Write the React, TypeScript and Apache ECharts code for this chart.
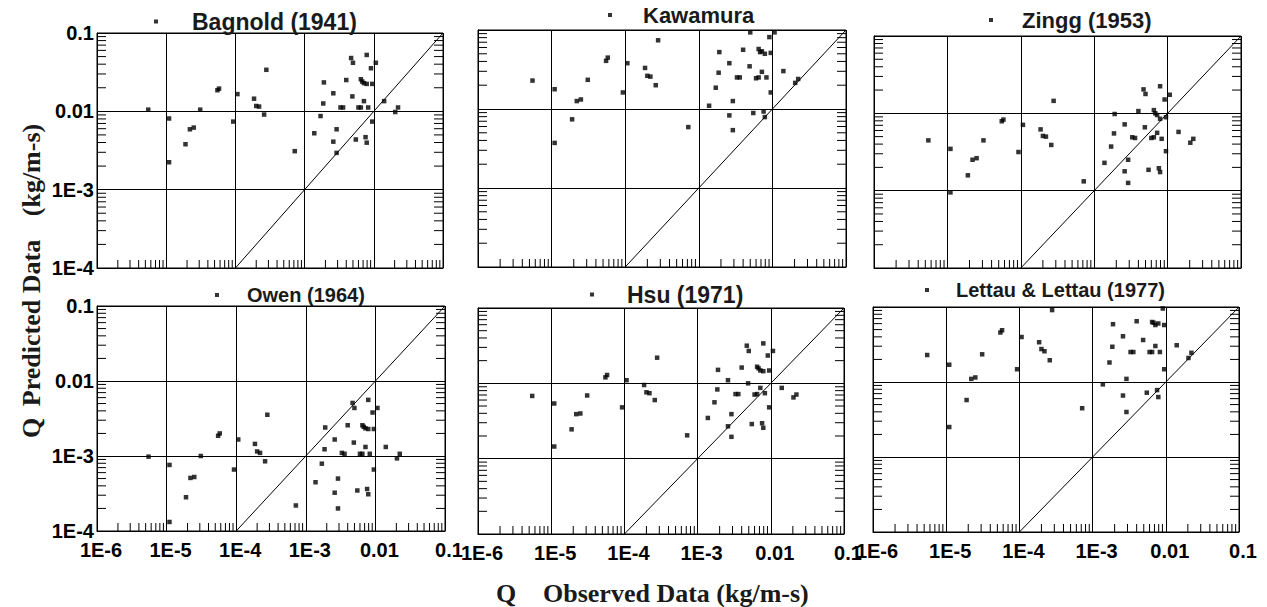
import React, { useEffect, useRef } from "react";
import * as echarts from "echarts";

// ---------------- data ----------------
const observedQ = [
  5.5e-6, 1.1e-5, 1.1e-5, 1.9e-5, 2.2e-5, 2.5e-5, 3.1e-5, 5.5e-5, 5.8e-5, 9.3e-5,
  1.07e-4, 1.86e-4, 2.0e-4, 2.2e-4, 2.6e-4, 2.8e-4, 7.2e-4, 1.38e-3, 1.7e-3, 1.86e-3,
  1.9e-3, 2.6e-3, 2.6e-3, 2.9e-3, 2.9e-3, 3.3e-3, 3.6e-3, 4.0e-3, 4.7e-3, 4.9e-3,
  5.0e-3, 5.5e-3, 6.0e-3, 6.5e-3, 6.5e-3, 6.8e-3, 7.2e-3, 7.2e-3, 7.6e-3, 7.9e-3,
  7.9e-3, 7.9e-3, 8.3e-3, 9.1e-3, 9.5e-3, 9.5e-3, 1.07e-2, 1.41e-2, 2.04e-2, 2.24e-2,
];

const bagnold = [
  1.05e-2, 8.1e-3, 2.24e-3, 3.8e-3, 5.9e-3, 6.2e-3, 1.05e-2, 1.86e-2, 1.95e-2, 7.4e-3,
  1.66e-2, 1.45e-2, 1.17e-2, 1.15e-2, 9.1e-3, 3.39e-2, 3.1e-3, 5.25e-3, 8.7e-3, 1.26e-2,
  2.34e-2, 4.1e-3, 1.7e-2, 2.95e-3, 5.9e-3, 1.12e-2, 1.12e-2, 2.51e-2, 4.79e-2, 1.55e-2,
  4.17e-2, 4.37e-3, 1.12e-2, 1.12e-2, 2.57e-2, 2.4e-2, 1.35e-2, 2.29e-2, 4.68e-3, 3.98e-3,
  5.25e-2, 2.24e-2, 1.12e-2, 3.55e-2, 2.24e-2, 7.4e-3, 4.17e-2, 1.35e-2, 9.8e-3, 1.12e-2,
];

const kawamura = [
  2.29e-2, 1.78e-2, 3.72e-3, 7.4e-3, 1.26e-2, 1.32e-2, 2.34e-2, 4.07e-2, 4.47e-2, 1.62e-2,
  3.8e-2, 3.31e-2, 2.63e-2, 2.57e-2, 2.0e-2, 7.41e-2, 5.9e-3, 1.1e-2, 1.86e-2, 2.88e-2,
  5.25e-2, 8.3e-3, 3.8e-2, 5.4e-3, 1.26e-2, 2.51e-2, 2.51e-2, 5.62e-2, null, 3.47e-2,
  9.33e-2, 8.9e-3, 2.45e-2, 2.51e-2, 5.75e-2, 5.25e-2, 2.95e-2, 5.37e-2, 9.3e-3, 7.9e-3,
  null, 5.0e-2, 2.51e-2, 8.13e-2, 5.13e-2, 1.62e-2, 9.33e-2, 3.02e-2, 2.14e-2, 2.4e-2,
];

const zingg = [
  4.47e-3, 3.47e-3, 9.5e-4, 1.58e-3, 2.51e-3, 2.63e-3, 4.47e-3, 7.9e-3, 8.3e-3, 3.16e-3,
  7.1e-3, 6.2e-3, 5.1e-3, 5.0e-3, 3.9e-3, 1.45e-2, 1.32e-3, 2.29e-3, 3.72e-3, 5.5e-3,
  9.8e-3, 1.78e-3, 7.2e-3, 1.26e-3, 2.51e-3, 4.9e-3, 4.8e-3, 1.07e-2, 2.04e-2, 6.6e-3,
  1.78e-2, 1.86e-3, 4.8e-3, 4.9e-3, 1.1e-2, 1.0e-2, 5.6e-3, 9.5e-3, 1.95e-3, 1.74e-3,
  2.24e-2, 8.5e-3, 4.68e-3, 1.51e-2, 8.9e-3, 3.24e-3, 1.74e-2, 5.75e-3, 4.17e-3, 4.68e-3,
];

const owen = [
  9.8e-4, 7.6e-4, 1.32e-4, 2.82e-4, 5.1e-4, 5.25e-4, 1.0e-3, 1.86e-3, 2.0e-3, 6.6e-4,
  1.66e-3, 1.45e-3, 1.15e-3, 1.1e-3, 8.5e-4, 3.55e-3, 2.19e-4, 4.47e-4, 7.9e-4, 1.23e-3,
  2.4e-3, 3.24e-4, 1.66e-3, 2.0e-4, 5.0e-4, 1.1e-3, 1.07e-3, 2.57e-3, 5.1e-3, 1.51e-3,
  4.37e-3, 3.47e-4, 1.07e-3, 1.07e-3, 2.57e-3, 2.45e-3, 1.32e-3, 2.34e-3, 3.63e-4, 3.09e-4,
  5.6e-3, 2.29e-3, 1.07e-3, 3.8e-3, 2.29e-3, 6.6e-4, 4.37e-3, 1.32e-3, 9.3e-4, 1.07e-3,
];

const hsu = [
  6.8e-3, 5.4e-3, 1.45e-3, 2.45e-3, 3.9e-3, 3.98e-3, 6.9e-3, 1.2e-2, 1.29e-2, 4.8e-3,
  1.1e-2, 9.5e-3, 7.6e-3, 7.4e-3, 6.0e-3, 2.19e-2, 2.04e-3, 3.47e-3, 5.6e-3, 8.3e-3,
  1.51e-2, 2.69e-3, 1.1e-2, 1.95e-3, 3.9e-3, 7.2e-3, 7.2e-3, 1.62e-2, 3.16e-2, 1.0e-2,
  2.69e-2, 2.88e-3, 7.1e-3, 7.2e-3, 1.66e-2, 1.58e-2, 8.7e-3, 1.48e-2, 2.95e-3, 2.57e-3,
  3.39e-2, 1.45e-2, 7.4e-3, 2.34e-2, 1.48e-2, 4.8e-3, 2.69e-2, 8.7e-3, 6.5e-3, 7.1e-3,
];

const lettau = [
  2.29e-2, 1.7e-2, 2.51e-3, 5.75e-3, 1.1e-2, 1.15e-2, 2.34e-2, 4.57e-2, 4.9e-2, 1.48e-2,
  3.98e-2, 3.39e-2, 2.75e-2, 2.57e-2, 1.95e-2, 9.1e-2, 4.47e-3, 9.3e-3, 1.82e-2, 2.95e-2,
  5.9e-2, 6.6e-3, 4.07e-2, 3.98e-3, 1.1e-2, 2.51e-2, 2.51e-2, 6.46e-2, null, 3.63e-2,
  null, 7.2e-3, 2.51e-2, 2.51e-2, 6.31e-2, 6.17e-2, 3.02e-2, 5.75e-2, 7.8e-3, 6.3e-3,
  null, 6.03e-2, 2.51e-2, 9.55e-2, 5.75e-2, 1.48e-2, null, 3.09e-2, 2.09e-2, 2.45e-2,
];

const panelNames = [
  "Bagnold (1941)",
  "Kawamura",
  "Zingg (1953)",
  "Owen (1964)",
  "Hsu (1971)",
  "Lettau & Lettau (1977)",
];
const predictedSets = [bagnold, kawamura, zingg, owen, hsu, lettau];

const xRange = [1e-6, 0.1];
const yRange = [1e-4, 0.1];
const diagonalEnds = [1e-4, 0.1];
const xTickLabels = ["1E-6", "1E-5", "1E-4", "1E-3", "0.01", "0.1"];
const yTickLabels = ["1E-4", "1E-3", "0.01", "0.1"];
const minorMantissas = [2, 3, 4, 5, 6, 7, 8, 9];
const xDecades = [-6, -5, -4, -3, -2];
const yDecades = [-4, -3, -2];

// ---------------- layout ----------------
const grids = [
  { left: 97, top: 33, width: 346, height: 235 },
  { left: 478, top: 30, width: 368, height: 237 },
  { left: 874, top: 36, width: 367, height: 232 },
  { left: 97, top: 306, width: 348, height: 225 },
  { left: 478, top: 308, width: 366, height: 226 },
  { left: 873, top: 307, width: 366, height: 225 },
];
// legend marker centre, text offset, font size
const legendLayout = [
  { x: 156, y: 22, gap: 29, size: 23 },
  { x: 610, y: 15, gap: 26, size: 22 },
  { x: 991, y: 20, gap: 24, size: 22 },
  { x: 217, y: 295, gap: 23, size: 20 },
  { x: 592, y: 295, gap: 28, size: 23 },
  { x: 927, y: 290, gap: 22, size: 20 },
];

const SANS = "'Liberation Sans', Arial, sans-serif";
const SERIF = "'Liberation Serif', 'Times New Roman', serif";
const INK = "#000";

function labelFor(list: string[], first: number) {
  return (v: number) => {
    const e = Math.round(Math.log10(v));
    return list[e - first] ?? "";
  };
}

function minorValues(decades: number[]) {
  const out: number[] = [];
  decades.forEach((d) => minorMantissas.forEach((m) => out.push(m * Math.pow(10, d))));
  return out;
}

function tickSeries(idx: number, kind: "x" | "yl" | "yr") {
  let data: number[][];
  let dx = 0;
  let dy = 0;
  if (kind === "x") {
    data = minorValues(xDecades).map((v) => [v, yRange[0]]);
    dy = -8;
  } else if (kind === "yl") {
    data = minorValues(yDecades).map((v) => [xRange[0], v]);
    dx = 9;
  } else {
    data = minorValues(yDecades).map((v) => [xRange[1], v]);
    dx = -9;
  }
  return {
    type: "custom",
    name: `ticks-${kind}-${idx}`,
    xAxisIndex: idx,
    yAxisIndex: idx,
    silent: true,
    clip: false,
    data,
    renderItem: (_p: any, api: any) => {
      const pt = api.coord([api.value(0), api.value(1)]);
      return {
        type: "line",
        shape: { x1: pt[0], y1: pt[1], x2: pt[0] + dx, y2: pt[1] + dy },
        style: { stroke: INK, lineWidth: 1 },
      };
    },
  };
}

function buildOption() {
  const grid = grids.map((g) => ({
    ...g,
    show: true,
    borderColor: INK,
    borderWidth: 1,
    backgroundColor: "transparent",
    containLabel: false,
  }));

  const xAxis = grids.map((_, i) => ({
    type: "log",
    logBase: 10,
    gridIndex: i,
    min: xRange[0],
    max: xRange[1],
    axisLine: { show: true, lineStyle: { color: INK, width: 1 } },
    axisTick: { show: false },
    splitLine: { show: true, lineStyle: { color: INK, width: 1 } },
    axisLabel: {
      show: i >= 3,
      formatter: labelFor(xTickLabels, -6),
      fontFamily: SANS,
      fontWeight: "bold",
      fontSize: 20,
      color: INK,
      margin: 9,
      padding: [0, 0, 0, 8],
    },
  }));

  const yAxis = grids.map((_, i) => ({
    type: "log",
    logBase: 10,
    gridIndex: i,
    min: yRange[0],
    max: yRange[1],
    axisLine: { show: true, lineStyle: { color: INK, width: 1 } },
    axisTick: { show: false },
    splitLine: { show: true, lineStyle: { color: INK, width: 1 } },
    axisLabel: {
      show: i === 0 || i === 3,
      formatter: labelFor(yTickLabels, -4),
      fontFamily: SANS,
      fontWeight: "bold",
      fontSize: 20,
      color: INK,
      margin: 3,
    },
  }));

  const series: any[] = [];
  predictedSets.forEach((pred, i) => {
    const pts = observedQ
      .map((x, k) => [x, pred[k]])
      .filter((p) => p[1] != null);
    series.push({
      type: "scatter",
      name: panelNames[i],
      xAxisIndex: i,
      yAxisIndex: i,
      symbol: "rect",
      symbolSize: 4.5,
      itemStyle: { color: "#000" },
      data: pts,
      clip: true,
    });
    series.push({
      type: "line",
      name: `diag-${i}`,
      xAxisIndex: i,
      yAxisIndex: i,
      symbol: "none",
      silent: true,
      lineStyle: { color: INK, width: 1 },
      data: [
        [diagonalEnds[0], diagonalEnds[0]],
        [diagonalEnds[1], diagonalEnds[1]],
      ],
    });
    series.push(tickSeries(i, "x"));
    series.push(tickSeries(i, "yl"));
    series.push(tickSeries(i, "yr"));
  });

  const legend = legendLayout.map((l, i) => ({
    data: [panelNames[i]],
    left: l.x - 2,
    top: l.y - Math.round(l.size / 2),
    padding: 0,
    icon: "rect",
    itemWidth: 4,
    itemHeight: 4,
    selectedMode: false,
    formatter: (name: string) => `{t|${name}}`,
    textStyle: {
      rich: {
        t: {
          fontFamily: SANS,
          fontWeight: "bold",
          fontSize: l.size,
          color: "#1a1a1a",
          padding: [0, 0, 0, l.gap],
        },
      },
    },
  }));

  const titleFont = { fontFamily: SERIF, fontWeight: "bold", fontSize: 26, fill: "#1a1a1a" };
  const graphic = [
    { type: "text", x: 31, y: 428, rotation: Math.PI / 2, style: { text: "Q", ...titleFont, textAlign: "center", textVerticalAlign: "middle" } },
    { type: "text", x: 31, y: 323, rotation: Math.PI / 2, style: { text: "Predicted Data", ...titleFont, textAlign: "center", textVerticalAlign: "middle" } },
    { type: "text", x: 31, y: 170, rotation: Math.PI / 2, style: { text: "(kg/m-s)", ...titleFont, textAlign: "center", textVerticalAlign: "middle" } },
    { type: "text", x: 506, y: 593, style: { text: "Q", ...titleFont, textAlign: "center", textVerticalAlign: "middle" } },
    { type: "text", x: 543, y: 593, style: { text: "Observed Data (kg/m-s)", ...titleFont, textAlign: "left", textVerticalAlign: "middle" } },
  ];

  return {
    animation: false,
    backgroundColor: "#fff",
    grid,
    xAxis,
    yAxis,
    legend,
    series,
    graphic,
  };
}

export default function App() {
  const ref = useRef<HTMLDivElement>(null);
  useEffect(() => {
    if (!ref.current) return;
    const chart = echarts.init(ref.current, undefined, { renderer: "svg" });
    chart.setOption(buildOption() as any);
    return () => chart.dispose();
  }, []);
  return (
    <div
      ref={ref}
      style={{ position: "fixed", left: 0, top: 0, width: 1267, height: 607, background: "#fff" }}
    />
  );
}
